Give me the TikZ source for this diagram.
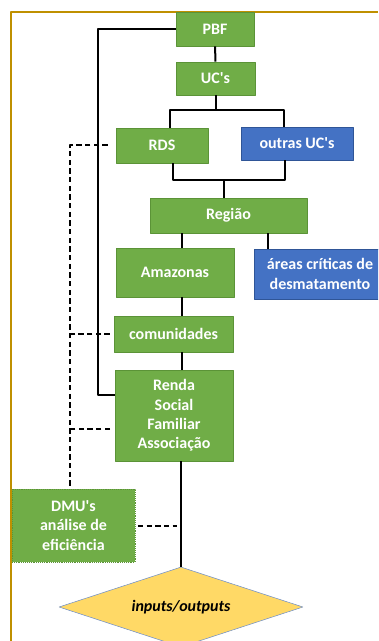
\documentclass[tikz,border=0pt]{standalone}
\usepackage{fontspec}
\setmainfont{Carlito}
\usetikzlibrary{shapes.geometric}
\definecolor{boxgreen}{HTML}{70AD47}
\definecolor{boxgreenline}{HTML}{5B9337}
\definecolor{boxblue}{HTML}{4472C4}
\definecolor{boxblueline}{HTML}{2F5597}
\definecolor{iofill}{HTML}{FFD966}
\definecolor{ioline}{HTML}{6F8FC8}
\definecolor{framegold}{HTML}{BF9000}
\begin{document}
\begin{tikzpicture}[x=0.75pt, y=-0.75pt, font=\fontsize{12}{14.5}\selectfont\bfseries, line join=round,
	greenbox/.style={draw=boxgreenline, fill=boxgreen, text=white, inner sep=0pt, align=center},
	bluebox/.style={greenbox, draw=boxblueline, fill=boxblue},
	link/.style={draw=black, line width=1.5pt},
	dashlink/.style={link, dash pattern=on 4pt off 2.5pt}]
	\clip (0,0) rectangle (378,641);
	\draw[framegold, line width=1.5pt] (11,641) -- (11,12) -- (378,12);
	% boxes
	\node[greenbox, minimum width=58.5pt, minimum height=25.5pt] (pbf) at (215,29) {PBF};
	\node[greenbox, minimum width=59.25pt, minimum height=24.75pt] (ucs) at (215.5,78.5) {UC\textquotesingle s};
	\node[greenbox, minimum width=69pt, minimum height=26.25pt] (rds) at (162,145.5) {RDS};
	\node[bluebox, minimum width=84pt, minimum height=24.75pt] (outras) at (297,143.5) {outras UC\textquotesingle s};
	\node[greenbox, minimum width=117.75pt, minimum height=26.25pt] (regiao) at (228.5,215.5) {Região};
	\node[greenbox, minimum width=88.5pt, minimum height=36.75pt] (amazonas) at (175,272.5) {Amazonas};
	\node[bluebox, minimum width=99pt, minimum height=37.5pt] (areas) at (320,274) {áreas críticas de\\desmatamento};
	\node[greenbox, minimum width=89.25pt, minimum height=27pt] (comunidades) at (173.5,334) {comunidades};
	\node[greenbox, minimum width=88.5pt, minimum height=68.25pt] (renda) at (174,415.5) {Renda\\Social\\Familiar\\Associação};
	\node[greenbox, densely dotted, minimum width=92.25pt, minimum height=54.75pt] (dmu) at (73.5,525.5) {DMU\textquotesingle s\\análise de\\eficiência};
	\node[diamond, draw=ioline, fill=iofill, aspect=3, inner sep=0pt, minimum width=183pt, minimum height=60pt] (io) at (181,607) {\itshape inputs/outputs};
	% connectors
	\coordinate (split) at (216,110);
	\coordinate (merge) at (224,180);
	\coordinate (midx) at (182,0);
	\coordinate (areax) at (268,0);
	\coordinate (loop) at (98,29);
	\coordinate (dashx) at (70,0);
	\coordinate (rendaD) at ([yshift=-10pt]renda.west);
	\draw[link] (pbf) -- (ucs);
	\draw[link] (ucs.south -| split) -- (split);
	\draw[link] ([xshift=6pt]rds.north) |- (split) -| ([xshift=-9.75pt]outras.north);
	\draw[link] ([xshift=8.25pt]rds.south) |- (merge) -| ([xshift=-9pt]outras.south);
	\draw[link] (merge) -- (merge |- regiao.north);
	\draw[link] (regiao.south -| midx) -- (amazonas.north -| midx);
	\draw[link] (regiao.south -| areax) -- (areas.north -| areax);
	\draw[link] (amazonas.south -| midx) -- (comunidades.north -| midx);
	\draw[link] (comunidades.south -| midx) -- (renda.north -| midx);
	\draw[link] (renda.south -| io.north) -- (io.north);
	\draw[link] (pbf.west) -- (loop) |- ([yshift=15.4pt]renda.west);
	\draw[dashlink] ([xshift=-6pt]rds.west) -- (rds.west -| dashx) -- (dmu.north -| dashx);
	\draw[dashlink] ([xshift=-3pt]comunidades.west) -- (comunidades.west -| dashx);
	\draw[dashlink] ([xshift=-3.5pt]rendaD) -- (rendaD -| dashx);
	\draw[dashlink, shorten <=2pt, shorten >=3pt] (dmu.east) -- (dmu.east -| io.north);
\end{tikzpicture}
\end{document}
